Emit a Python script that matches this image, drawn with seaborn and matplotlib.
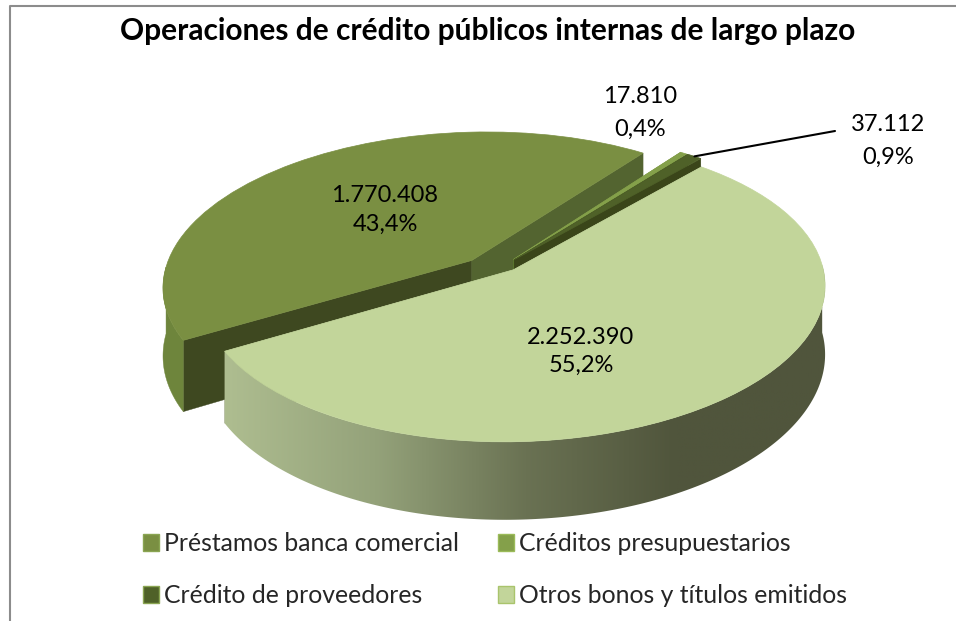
import numpy as np
import seaborn as sns
import matplotlib.pyplot as plt
from matplotlib.colors import LinearSegmentedColormap
from matplotlib.patches import Patch, Polygon
from matplotlib.transforms import Transform

titulo = "Operaciones de crédito públicos internas de largo plazo"
categorias = ["Préstamos banca comercial", "Créditos presupuestarios",
              "Crédito de proveedores", "Otros bonos y títulos emitidos"]
valores = [1770408, 17810, 37112, 2252390]

color_top = ["#7a8f42", "#84a04a", "#4f6128", "#c2d59a"]
color_lado = ["#6e853c", "#6a8236", "#3a4519", "#8e9a70"]
color_corte = ["#536430", "#6f8a3a", "#3a4519", "#8e9a70"]
color_corte2 = ["#3e4820", "#55702c", "#3a4519", "#8e9a70"]
color_borde = ["#8aa552", "#9bbb59", "#8aa552", "#a9c46c"]
degradado = ["#aebd90", "#94a27a", "#6a7253", "#50553c", "#50553c"]

# geometry of the tilted pie in pixels
CX, CY = 493, 265
R, RY = 307, 147
P = 0.136
D = 67
SHEAR = 6


def project(x, y, z=0):
    w = 1 + P * y
    return CX + R * x / w, CY - (RY * y + SHEAR * x) / w + D * z / w


class Tilt(Transform):
    input_dims = 2
    output_dims = 2

    def transform_non_affine(self, values):
        sx, sy = project(values[:, 0], values[:, 1])
        return np.column_stack([sx, sy])


def rim(w, t):
    t = np.radians(t)
    return w.center[0] + w.r * np.cos(t), w.center[1] + w.r * np.sin(t)


def wall_outer(w):
    t = np.linspace(w.theta1, w.theta2, 300)
    t = t[np.sin(np.radians(t)) < 0]
    if len(t) == 0:
        return None
    x, y = rim(w, t)
    top = np.column_stack(project(x, y, 0))
    bot = np.column_stack(project(x, y, 1))
    return np.vstack([top, bot[::-1]])


def wall_cut(w, t):
    x, y = rim(w, t)
    a = project(w.center[0], w.center[1], 0)
    b = project(x, y, 0)
    c = project(x, y, 1)
    d = project(w.center[0], w.center[1], 1)
    return np.array([a, b, c, d])


def etiqueta(v):
    pct = 100 * v / sum(valores)
    return f"{v:,}".replace(",", ".") + "\n" + f"{pct:.1f}%".replace(".", ",")


sns.set_theme(style="white")
plt.rcParams['font.family'] = ['Lato', 'DejaVu Sans']

fig = plt.figure(figsize=(9.56, 6.21), dpi=100)
ax = fig.add_axes([0, 0, 1, 1])

wedges, _ = ax.pie(valores, startangle=208.5, counterclock=False,
                   explode=[0.107] * 4, colors=sns.color_palette(color_top))

for i, w in enumerate(wedges):
    z = 10 * (i + 1)
    # explosion looks flatter on the page than the tilt of the disc
    w.set_center((w.center[0], w.center[1] * 0.42))
    w.set_transform(Tilt() + ax.transData)
    w.set_zorder(z + 3)
    w.set_edgecolor(color_top[i])
    w.set_linewidth(0.5)
    ax.fill(*wall_cut(w, w.theta2).T, color=color_corte2[i] if i == 0 else color_corte[i], zorder=z, lw=0.3)
    ax.fill(*wall_cut(w, w.theta1).T, color=color_corte[i] if i == 0 else color_corte2[i], zorder=z + 1, lw=0.3)
    pared = wall_outer(w)
    if pared is None:
        continue
    if i == 3:
        cmap = LinearSegmentedColormap.from_list("lado", degradado)
        im = ax.imshow(np.linspace(0, 1, 256)[None, :], cmap=cmap, aspect="auto", zorder=z + 2,
                       extent=[pared[:, 0].min(), pared[:, 0].max(), pared[:, 1].max(), pared[:, 1].min()])
        im.set_clip_path(Polygon(pared, transform=ax.transData))
    else:
        ax.fill(*pared.T, color=color_lado[i], zorder=z + 2, lw=0.3)

ax.set_aspect("auto")
ax.set_xlim(0, 956)
ax.set_ylim(621, 0)
ax.axis("off")

# chart frame, cut by the screenshot on the right and at the bottom
ax.plot([10, 10, 956], [621, 6, 6], color="#8c8c8c", lw=1.5, zorder=1)

ax.text(488, 31, titulo, fontsize=21.5, fontweight="bold", color="black",
        ha="center", va="center", zorder=60)

pos_label = [(385, 210), (640, 113), (888, 141), (581, 351)]
espacio = [1.45, 1.7, 1.7, 1.4]
for v, (x, y), e in zip(valores, pos_label, espacio):
    ax.text(x, y, etiqueta(v), fontsize=17, ha="center", va="center",
            color="black", linespacing=e, zorder=60)

# leader line for the small slice
xr, yr = rim(wedges[2], (wedges[2].theta1 + wedges[2].theta2) / 2)
ax.annotate("", xy=project(xr, yr), xytext=(835, 131),
            arrowprops=dict(arrowstyle="-", color="black", lw=1.5, shrinkA=0, shrinkB=0), zorder=60)

# legend fills by column, the chart reads by row
orden = [0, 2, 1, 3]
handles = [Patch(facecolor=color_top[i], edgecolor=color_borde[i], lw=1) for i in orden]
ax.legend(handles, [categorias[i] for i in orden], ncols=2, loc="upper left", bbox_to_anchor=(121, 510),
          bbox_transform=ax.transData, frameon=False, fontsize=17.8, handlelength=0.65,
          handleheight=0.65, handletextpad=0.2, labelspacing=1.17, columnspacing=1.55)

fig.savefig("out.png", dpi=100)
